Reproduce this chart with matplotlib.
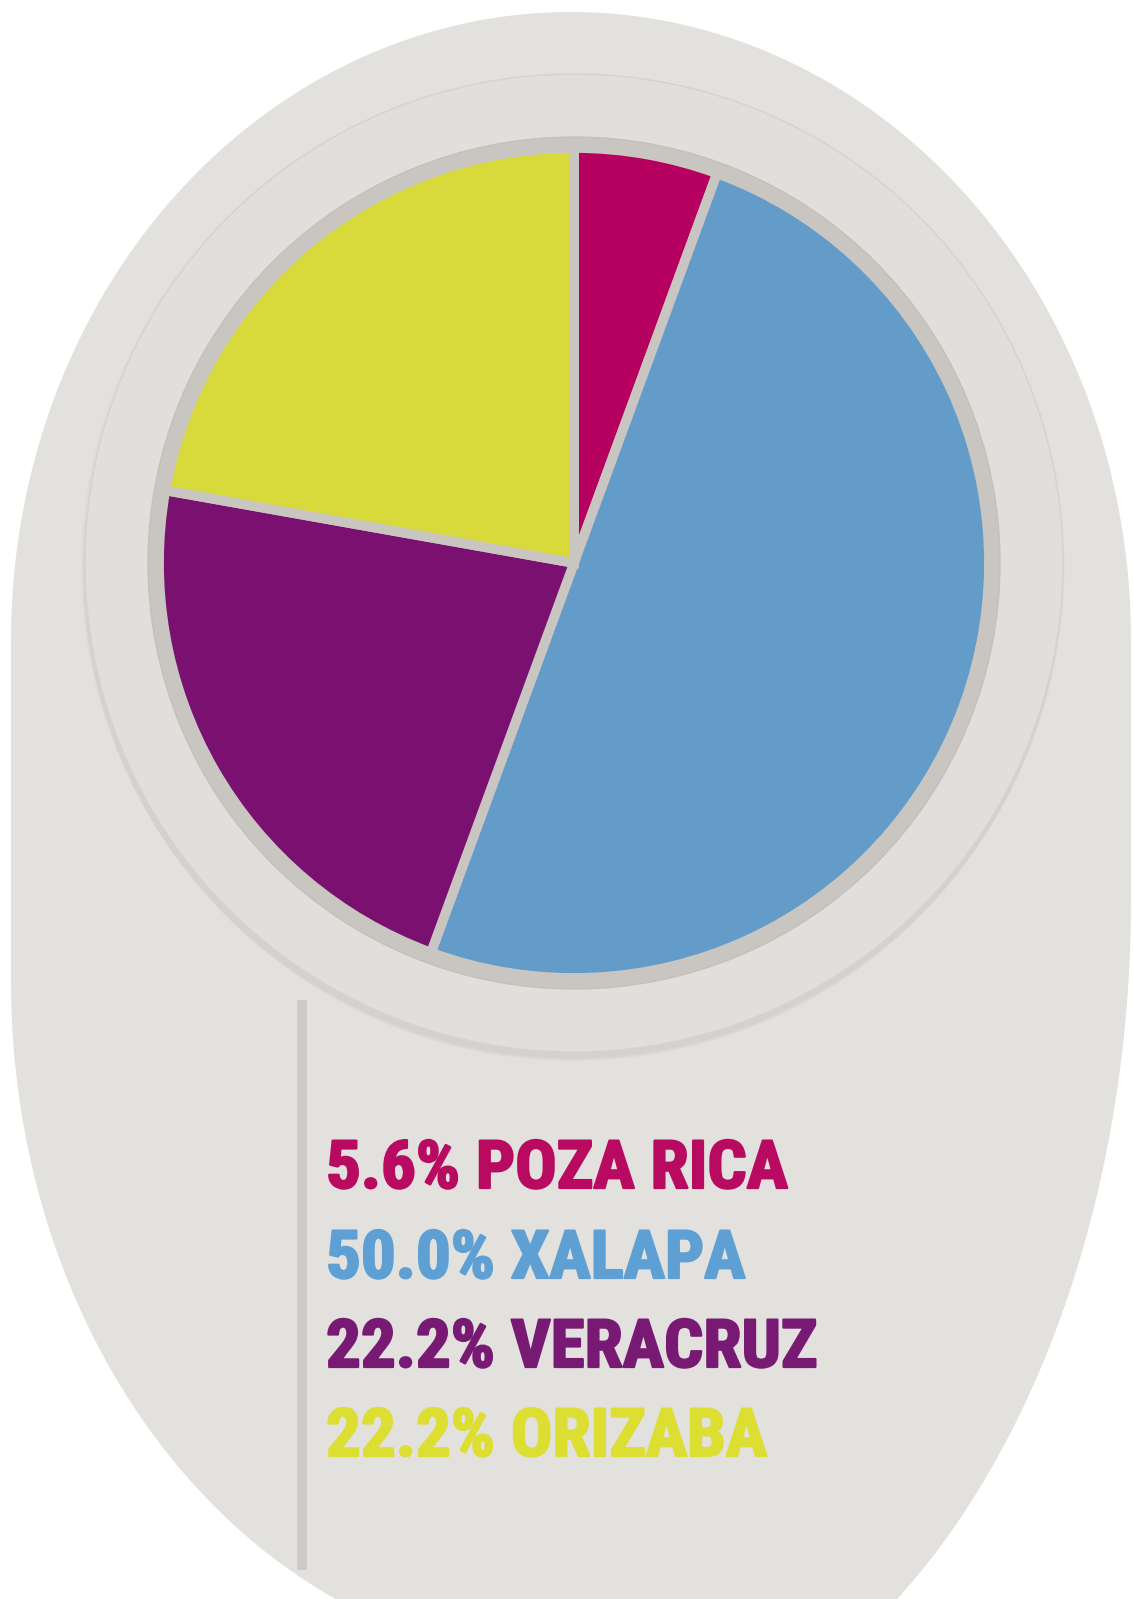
import numpy as np
import matplotlib
matplotlib.use("Agg")
import matplotlib.pyplot as plt
from matplotlib import font_manager
from matplotlib.patches import Circle, Polygon
from matplotlib.transforms import Affine2D
import matplotlib.patheffects as pe

# data
cities = ["POZA RICA", "XALAPA", "VERACRUZ", "ORIZABA"]
shares = [5.6, 50.0, 22.2, 22.2]
wedge_colors = ["#b5005f", "#639bc9", "#7a1070", "#d7da3a"]
text_colors = ["#b80a60", "#5ea0d4", "#781a73", "#dcde32"]

W, H = 1134, 1599
FONT_SIZE = 48
TARGET_W = 462  # width of the first label line in pixels
PREFERRED = ("Noto Sans", "Roboto", "Open Sans", "Liberation Sans", "DejaVu Sans", "Lato", "Inter")


def weight_num(w):
    if isinstance(w, (int, float)):
        return w
    return font_manager.weight_dict.get(w, 400)


class Squeeze(pe.AbstractPathEffect):
    # narrows glyphs horizontally around the left edge and thickens them a little
    def __init__(self, x0, sx, lw=1.6):
        super().__init__()
        self.x0, self.sx, self.lw = x0, sx, lw

    def draw_path(self, renderer, gc, tpath, affine, rgbFace=None):
        aff = affine + Affine2D().translate(-self.x0, 0).scale(self.sx, 1).translate(self.x0, 0)
        gc0 = renderer.new_gc()
        gc0.copy_properties(gc)
        if rgbFace is not None:
            gc0.set_foreground(rgbFace)
        gc0.set_linewidth(self.lw)
        gc0.set_joinstyle("round")
        renderer.draw_path(gc0, tpath, aff, rgbFace)
        gc0.restore()


fig = plt.figure(figsize=(W / 100, H / 100), dpi=100)
fig.patch.set_facecolor("white")
ax = fig.add_axes([0, 0, 1, 1])
r = fig.canvas.get_renderer()

# heavy condensed face, common sans families first
first_label = f"{shares[0]:.1f}% {cities[0]}"
font_prop = font_manager.FontProperties(family="DejaVu Sans", weight="bold", size=FONT_SIZE)
cands = [f for f in font_manager.fontManager.ttflist
         if f.stretch in ("condensed", "semi-condensed", "extra-condensed")
         and weight_num(f.weight) >= 700 and f.style == "normal"]
best = None
for f in cands:
    fp = font_manager.FontProperties(fname=f.fname, size=FONT_SIZE)
    try:
        wpx, _, _ = r.get_text_width_height_descent(first_label, fp, ismath=False)
    except Exception:
        continue
    score = abs(np.log(wpx / TARGET_W)) + abs(weight_num(f.weight) - 900) / 600
    if not f.name.startswith(PREFERRED):
        score += 0.4
    if best is None or score < best[0]:
        best = (score, fp)
if best is not None:
    font_prop = best[1]


def Y(y):
    # pixel row -> data y
    return H - y


# capsule background: elliptic top, straight sides, leaning elliptic bottom
cx, half_w = 571, 560
top_c, top_b = 640, 628
left_c, left_b = 982, 680
right_c, right_b = 900, 860
t = np.linspace(0, np.pi, 200)
q = np.linspace(0, np.pi / 2, 100)
top_x = cx + half_w * np.cos(t)
top_y = top_c - top_b * np.sin(t)
left_x = cx - half_w * np.cos(q)
left_y = left_c + left_b * np.sin(q)
right_x = cx + half_w * np.cos(q[::-1])
right_y = right_c + right_b * np.sin(q[::-1])
xs = np.concatenate([top_x, left_x, right_x])
ys = np.concatenate([top_y, left_y, right_y])
ax.add_patch(Polygon(np.column_stack([xs, Y(ys)]), closed=True,
                     facecolor="#e3e1de", edgecolor="none", zorder=1))

# vertical rule under the ring
ax.plot([302, 302], [Y(1000), Y(1570)], color="#cbcac8", linewidth=7,
        solid_capstyle="butt", zorder=2)

# ring with soft shadow
pcx, pcy = 574, Y(563)
for k, a in enumerate([0.04, 0.05, 0.05, 0.06]):
    ax.add_patch(Circle((pcx - 1, pcy - 3 - k * 2), 489 + 3 - k, facecolor="#9a9690",
                        edgecolor="none", alpha=a, zorder=3))
ax.add_patch(Circle((pcx, pcy), 489, facecolor="#e1dfdc", edgecolor="#d6d3cf",
                    linewidth=1.0, zorder=4))
# pie border
ax.add_patch(Circle((pcx, pcy), 426, facecolor="#c9c6c2", edgecolor="#c4c1bd",
                    linewidth=1, zorder=5))

wedges, _ = ax.pie(shares, colors=wedge_colors, startangle=90, counterclock=False,
                   center=(pcx, pcy), radius=415, frame=True,
                   wedgeprops=dict(edgecolor="#c9c6c2", linewidth=7))
for w in wedges:
    w.set_zorder(6)
ax.set_xlim(0, W)
ax.set_ylim(0, H)
ax.set_aspect("equal")
ax.axis("off")

# labels
x_text = 326
baselines = [1188, 1278, 1367, 1456]
texts = []
for name, val, col, yb in zip(cities, shares, text_colors, baselines):
    txt = ax.text(x_text, Y(yb), f"{val:.1f}% {name}", color=col,
                  fontproperties=font_prop.copy(), va="baseline", ha="left", zorder=8)
    texts.append(txt)

fig.canvas.draw()
w0 = texts[0].get_window_extent(r).width
sx = min(max(TARGET_W / w0, 0.6), 1.15)
x0 = ax.transData.transform((x_text, 0))[0]
for txt in texts:
    txt.set_path_effects([Squeeze(x0, sx)])

fig.savefig("out.png", dpi=100, facecolor="white")
